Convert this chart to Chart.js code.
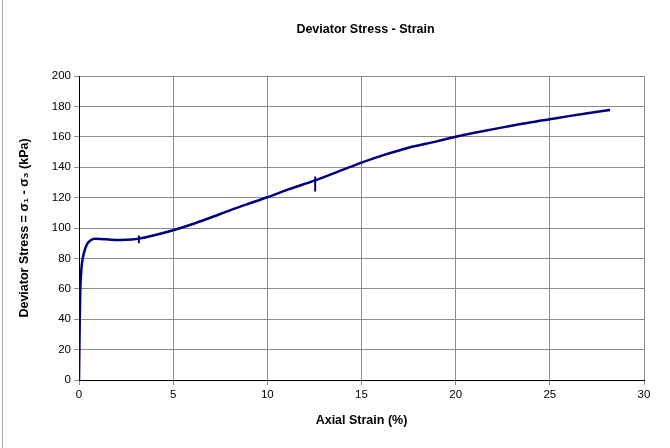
<!DOCTYPE html>
<html>
<head>
<meta charset="utf-8">
<script src="https://cdn.jsdelivr.net/npm/chart.js@4/dist/chart.umd.min.js"></script>
<style>
    body { margin: 0; background: #ffffff; }
    #grafico { display: block; }
</style>
</head>
<body>
<canvas id="grafico" width="670" height="448"></canvas>
<script>
// Axial strain (%) and deviator stress (kPa)
const strain = [0, 0.01, 0.02, 0.04, 0.07, 0.11, 0.16, 0.25, 0.41, 0.62, 0.85, 1.2, 1.7, 2.2, 2.8,
    3.2, 4, 5, 6.2, 7.5, 8.7, 10, 11.2, 12.5, 14.4, 15, 16, 17.5, 19, 20, 21, 22.5, 24, 25, 26, 27, 28.2];
const stress = [0, 10, 20, 40, 60, 70, 77, 83, 89, 92, 93, 92.8, 92.3, 92.1, 92.4,
    93, 95.2, 98.5, 103.3, 109.2, 114.7, 120.2, 125.7, 131.2, 140.2, 143, 147.3, 152.8, 157, 160, 162.6, 166.2, 169.6, 171.6, 173.6, 175.5, 177.6];

// short vertical jumps in the recorded data
const glitchStrain = [3.18, 12.54];
const glitchHigh = [95, 133.8];
const glitchLow = [90, 124];

const xTicks = [0, 5, 10, 15, 20, 25, 30];
const yTicks = [0, 20, 40, 60, 80, 100, 120, 140, 160, 180, 200];

const fonte = "'Liberation Sans', Arial, 'DejaVu Sans', sans-serif";

const pontos = strain.map((s, i) => ({ x: s, y: stress[i] }));
let saltos = [];
glitchStrain.forEach((s, i) => {
    saltos.push({ x: s, y: glitchHigh[i] });
    saltos.push({ x: s, y: glitchLow[i] });
    saltos.push({ x: s, y: null });
});

// título centrado sobre a área do gráfico + moldura
const tituloPlugin = {
    id: "tituloPlugin",
    afterDraw(chart) {
        const ctx = chart.ctx;
        const area = chart.chartArea;
        ctx.save();
        ctx.fillStyle = "#000000";
        ctx.font = "bold 12.5px " + fonte;
        ctx.textAlign = "center";
        ctx.textBaseline = "middle";
        ctx.fillText("Deviator Stress - Strain", (area.left + area.right) / 2 + 4, 30);
        ctx.strokeStyle = "#b0b0b0";
        ctx.lineWidth = 1;
        ctx.beginPath();
        ctx.moveTo(2.5, 0);
        ctx.lineTo(2.5, 448);
        ctx.stroke();
        ctx.restore();
    },
};

new Chart(document.getElementById("grafico"), {
    type: "line",
    data: {
        datasets: [
            {
                data: pontos,
                borderColor: "#000080",
                borderWidth: 2.5,
                pointRadius: 0,
                fill: false,
                cubicInterpolationMode: "monotone",
            },
            {
                data: saltos,
                borderColor: "#000080",
                borderWidth: 2,
                pointRadius: 0,
                fill: false,
                tension: 0,
                spanGaps: false,
            },
        ],
    },
    options: {
        responsive: false,
        animation: false,
        layout: { padding: { left: 0, right: 26, top: 76, bottom: 0 } },
        plugins: {
            legend: { display: false },
            tooltip: { enabled: false },
            title: { display: false },
        },
        scales: {
            x: {
                type: "linear",
                min: 0,
                max: 30,
                afterBuildTicks: (scale) => {
                    scale.ticks = xTicks.map((v) => ({ value: v }));
                },
                afterFit: (scale) => {
                    scale.height = 68;
                },
                grid: { color: "#8c8c8c", lineWidth: 1, tickLength: 5, tickColor: "#8c8c8c" },
                border: { color: "#000000", width: 1 },
                ticks: {
                    padding: 3,
                    color: "#000000",
                    font: { family: fonte, size: 11.5 },
                    maxRotation: 0,
                },
                title: {
                    display: true,
                    text: "Axial Strain (%)",
                    color: "#000000",
                    font: { family: fonte, size: 12.5, weight: "bold" },
                    padding: { top: 0, bottom: 20 },
                },
            },
            y: {
                type: "linear",
                min: 0,
                max: 200,
                afterBuildTicks: (scale) => {
                    scale.ticks = yTicks.map((v) => ({ value: v }));
                },
                afterFit: (scale) => {
                    scale.width = 79;
                },
                grid: { color: "#8c8c8c", lineWidth: 1, tickLength: 5, tickColor: "#8c8c8c" },
                border: { color: "#000000", width: 1 },
                ticks: {
                    padding: 3,
                    color: "#000000",
                    font: { family: fonte, size: 11.5 },
                },
                title: {
                    display: true,
                    text: "Deviator Stress = σ₁ - σ₃ (kPa)",
                    color: "#000000",
                    font: { family: fonte, size: 12.5, weight: "bold" },
                    padding: { top: 17, bottom: 0 },
                },
            },
        },
    },
    plugins: [tituloPlugin],
});
</script>
</body>
</html>
